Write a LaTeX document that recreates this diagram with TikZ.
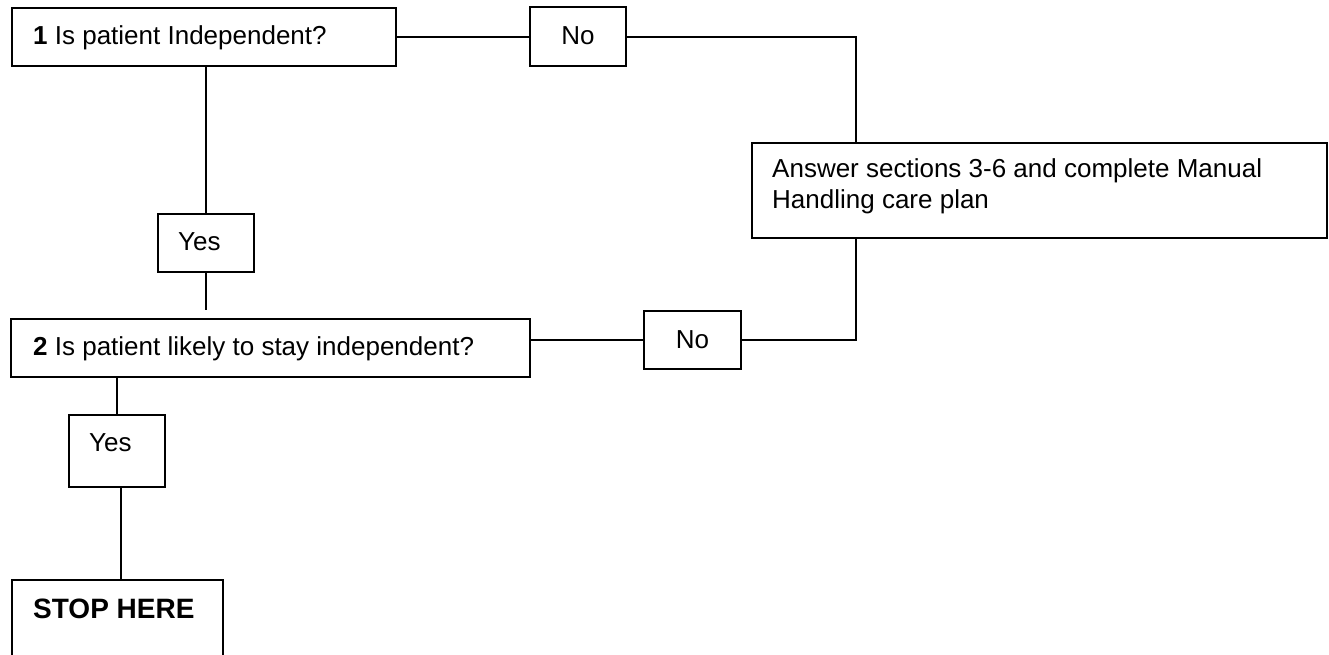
\documentclass[tikz,border=0pt]{standalone}
\usepackage{fontspec}
\setmainfont{Liberation Sans}
\usetikzlibrary{calc}
\begin{document}
\begin{tikzpicture}[x=1pt,y=-1pt,
  box/.style={draw,line width=2pt,rectangle,inner sep=0pt},
  conn/.style={line width=2pt},
  txt/.style={anchor=base west,inner sep=0pt,font=\fontsize{26}{31}\selectfont}]
\useasboundingbox (0,0) rectangle (1329,654);
\clip (0,0) rectangle (1329,654);
% boxes
\node[box,minimum width=384pt,minimum height=58pt] (b1) at (204,37) {};
\node[box,minimum width=96pt,minimum height=59pt] (no1) at (578,36.5) {};
\node[box,minimum width=575pt,minimum height=95pt] (ans) at (1039.5,190.5) {};
\node[box,minimum width=519pt,minimum height=58pt] (b2) at (270.5,348) {};
\node[box,minimum width=97pt,minimum height=58pt] (no2) at (692.5,340) {};
\node[box,minimum width=96pt,minimum height=58pt] (yes1) at (206,243) {};
\node[box,minimum width=96pt,minimum height=72pt] (yes2) at (117,451) {};
\node[box,minimum width=211pt,minimum height=120pt] (stop) at (117.5,640) {};
\coordinate (c1) at (856,0);
\coordinate (c2) at ($(yes2.south)+(4,0)$);
% texts
\node[txt] (t1) at (33,44) {\textbf{1} Is patient Independent?};
\node[txt,anchor=base] (tno1) at (578,44) {No};
\node[txt] (tans1) at (772,177) {Answer sections 3-6 and complete Manual};
\node[txt] (tans2) at (772,208) {Handling care plan};
\node[txt] (t2) at (33,355) {\textbf{2} Is patient likely to stay independent?};
\node[txt,anchor=base] (tno2) at (692.5,348) {No};
\node[txt] (tyes1) at (178,250) {Yes};
\node[txt] (tyes2) at (89,451) {Yes};
\node[txt,font=\fontsize{28}{33}\bfseries\selectfont] (tstop) at (33,618) {STOP HERE};
% connectors
\draw[conn] (b1.east |- no1.west) -- (no1.west);
\draw[conn] (no1.east) -| (c1 |- ans.north);
\draw[conn] (c1 |- ans.south) |- (no2.east);
\draw[conn] (no2.west) -- (no2.west -| b2.east);
\draw[conn] (yes1.north |- b1.south) -- (yes1.north);
\draw[conn,shorten >=8pt] (yes1.south) -- (yes1.south |- b2.north);
\draw[conn] (yes2.north |- b2.south) -- (yes2.north);
\draw[conn] (c2) -- (c2 |- stop.north);
\end{tikzpicture}
\end{document}
